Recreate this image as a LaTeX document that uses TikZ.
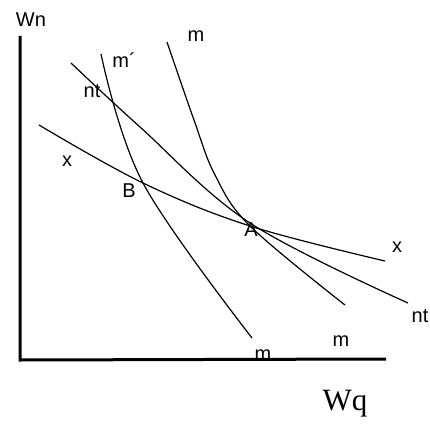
\documentclass[tikz,border=0pt]{standalone}
\usepackage{fontspec}
\setmainfont{Liberation Sans}
\newfontfamily\wqfont{Liberation Serif}
\begin{document}
\begin{tikzpicture}[x=1pt,y=-1pt,
  axisline/.style={line width=3pt},
  curveline/.style={line width=1.2pt, smooth, tension=0.6},
  lbl/.style={inner sep=0pt, font=\fontsize{20}{20}\selectfont},
  biglbl/.style={inner sep=0pt, font=\wqfont\fontsize{31}{31}\selectfont}]
\useasboundingbox (0,0) rectangle (430,430);
% axes
\coordinate (ytop) at (20,36);
\coordinate (orig) at (20,360);
\coordinate (xend) at (386,359);
\draw[axisline] (ytop) -- (orig) -- (xend);
% curves
\draw[curveline] plot coordinates {(39,125) (143,183) (250,226) (385,261)};
\draw[curveline] plot coordinates {(71,63) (140,127) (250,223) (408,303)};
\draw[curveline] plot coordinates {(167,42) (194,120) (215,175) (250,226) (345,305)};
\draw[curveline] plot coordinates {(101,54) (143,183) (252,338)};
% labels
\node[lbl] (wn) at (31,20) {Wn};
\node[lbl] (mtop) at (196,36) {m};
\node[lbl] (mprime) at (124,60) {m´};
\node[lbl] (ntl) at (92,91) {nt};
\node[lbl] (xl) at (67,161) {x};
\node[lbl] (b) at (129,191) {B};
\node[lbl] (a) at (251,230) {A};
\node[lbl] (xr) at (397,247) {x};
\node[lbl] (ntr) at (420,316) {nt};
\node[lbl] (mbr) at (341,341) {m};
\node[lbl] (max) at (263,355) {m};
\node[biglbl] (wq) at (345,404) {Wq};
\end{tikzpicture}
\end{document}
